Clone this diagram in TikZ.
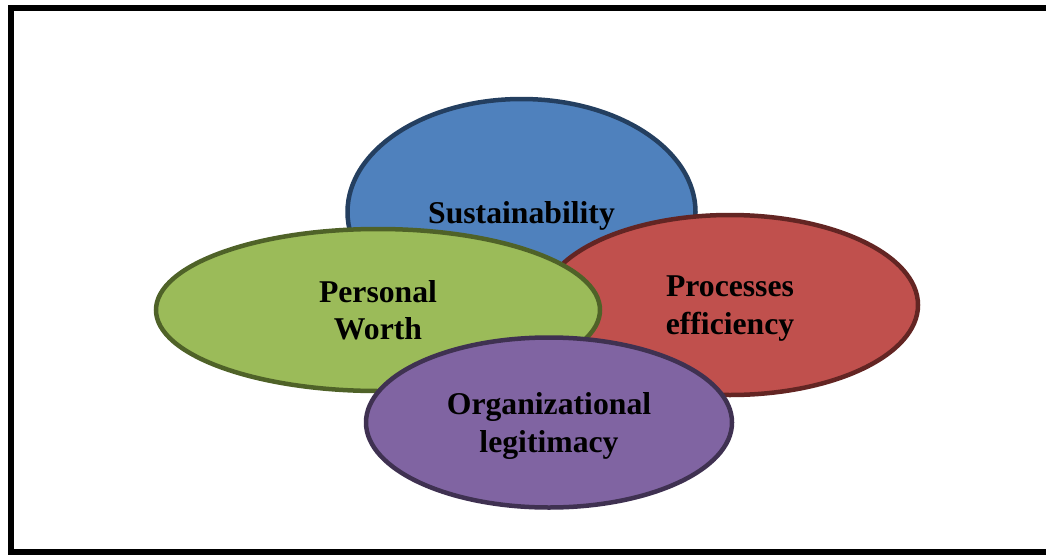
\documentclass[tikz,border=0pt]{standalone}
\usepackage{fontspec}
\setmainfont{Liberation Serif}
\usepackage{tikz}
\usetikzlibrary{shapes.geometric}
\definecolor{BLACK}{HTML}{000000}
\definecolor{BLUE}{HTML}{4F81BD}
\definecolor{BLUEDARK}{HTML}{243F60}
\definecolor{RED}{HTML}{C0504D}
\definecolor{REDDARK}{HTML}{632523}
\definecolor{GREEN}{HTML}{9BBB59}
\definecolor{GREENDARK}{HTML}{4F6228}
\definecolor{PURPLE}{HTML}{8064A2}
\definecolor{PURPLEDARK}{HTML}{3F3151}

\begin{document}
\begin{tikzpicture}[x=1pt, y=-1pt,
    blob/.style={ellipse, line width=4.5pt, align=center, inner sep=0pt, text depth=-2.5pt,
        font=\bfseries\fontsize{31.7}{37.5}\selectfont}]
    \useasboundingbox (0,0) rectangle (1046,554);
    \clip (0,0) rectangle (1046,554);
    \draw[BLACK, line width=6pt] (11,8) rectangle (1060,552);
    % the four overlapping ovals, back to front
    \node[blob, draw=BLUEDARK, fill=BLUE, minimum width=348, minimum height=226] (sust) at (521.5,212) {Sustainability};
    \node[blob, draw=REDDARK, fill=RED, minimum width=376, minimum height=180] (proc) at (730,305) {Processes\\efficiency};
    \node[blob, draw=GREENDARK, fill=GREEN, minimum width=444, minimum height=162, text depth=-8pt] (worth) at (378,310) {Personal\\Worth};
    \node[blob, draw=PURPLEDARK, fill=PURPLE, minimum width=366, minimum height=170] (legit) at (549,422.5) {Organizational\\legitimacy};
\end{tikzpicture}
\end{document}
